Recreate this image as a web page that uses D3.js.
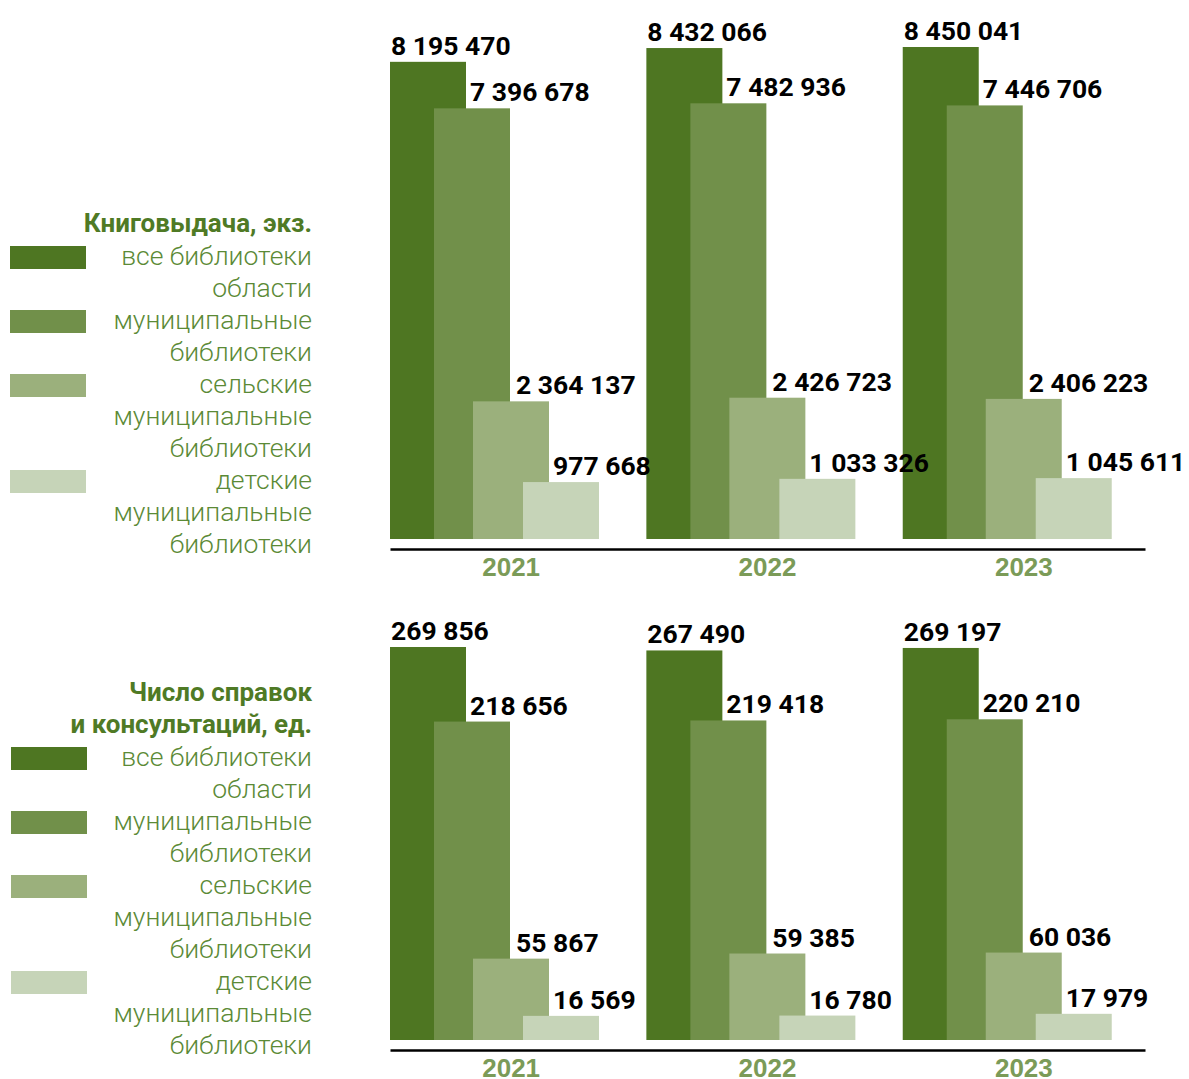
<!DOCTYPE HTML>
<html>
<head>
<meta charset="UTF-8">
<title>Книговыдача и справки</title>
<script src="https://d3js.org/d3.v7.min.js"></script>
<style>
  body { margin: 0; background: #fff; }
  svg { display: block; font-family: Roboto, "Noto Sans", sans-serif; }
  .val { font-weight: 700; font-size: 26.5px; fill: #000; }
  .year text { font-weight: 700; font-size: 26px; fill: #7b9b58; }
  .year path { stroke: #000; stroke-width: 2.5; }
  .ttl { font-weight: 700; font-size: 26px; fill: #4f7a25; text-anchor: end; }
  .leg { font-weight: 300; font-size: 26.5px; fill: #5b8a36; text-anchor: end; }
</style>
</head>
<body>
<svg width="1189" height="1079"></svg>
<script>
const years = ["2021", "2022", "2023"];
const seriesNames = [
  ["все библиотеки", "области"],
  ["муниципальные", "библиотеки"],
  ["сельские", "муниципальные", "библиотеки"],
  ["детские", "муниципальные", "библиотеки"]
];
const colors = ["#4e7622", "#71904a", "#9bb07c", "#c6d4b8"];

// Книговыдача, экз. (по годам: все, муниципальные, сельские, детские)
const booksAll = [8195470, 8432066, 8450041];
const booksMun = [7396678, 7482936, 7446706];
const booksRural = [2364137, 2426723, 2406223];
const booksChild = [977668, 1033326, 1045611];

// Число справок и консультаций, ед.
const refAll = [269856, 267490, 269197];
const refMun = [218656, 219418, 220210];
const refRural = [55867, 59385, 60036];
const refChild = [16569, 16780, 17979];

const fmt = v => d3.format(",")(v).replace(/,/g, " ");
const svg = d3.select("svg");

function drawPanel(cfg) {
  const series = cfg.data;
  const g = svg.append("g");

  // legend
  cfg.title.forEach((t, i) => {
    g.append("text").attr("class", "ttl")
      .attr("x", 312).attr("y", cfg.titleY + i * 32).attr("dy", "0.35em").text(t);
  });
  let line = 0;
  seriesNames.forEach((lines, si) => {
    const y0 = cfg.legY + line * 32;
    g.append("rect").attr("x", cfg.swX).attr("y", y0 - 10).attr("width", 76).attr("height", 23)
      .attr("fill", colors[si]);
    lines.forEach((l, li) => {
      g.append("text").attr("class", "leg")
        .attr("x", 312).attr("y", y0 + li * 32).attr("dy", "0.35em").text(l);
    });
    line += lines.length;
  });

  const x = d3.scaleBand().domain(years).range([390, 1145]).paddingInner(0.055).paddingOuter(0);
  const off = d3.scaleOrdinal().domain([0, 1, 2, 3]).range([0, 44, 83, 133]);
  const labOff = d3.scaleOrdinal().domain([0, 1, 2, 3]).range([1, 36, 43, 30]);
  const y = d3.scaleLinear().domain([0, cfg.max]).range([cfg.base, cfg.top]);

  const rows = [];
  years.forEach((yr, yi) => series.forEach((s, si) => rows.push({ yr, si, v: s[yi] })));

  g.selectAll("rect.bar").data(rows).enter().append("rect")
    .attr("class", "bar")
    .attr("x", d => x(d.yr) + off(d.si))
    .attr("y", d => y(d.v))
    .attr("width", 76)
    .attr("height", d => y(0) - y(d.v))
    .attr("fill", d => colors[d.si]);

  g.selectAll("text.val").data(rows).enter().append("text")
    .attr("class", "val")
    .attr("x", d => x(d.yr) + off(d.si) + labOff(d.si))
    .attr("y", d => y(d.v) - 7)
    .text(d => fmt(d.v));

  g.append("g").attr("class", "year")
    .attr("transform", "translate(0," + cfg.axisY + ")")
    .call(d3.axisBottom(x).tickSize(0).tickSizeOuter(0).tickPadding(9));
}

drawPanel({
  data: [booksAll, booksMun, booksRural, booksChild],
  title: ["Книговыдача, экз."], titleY: 223, legY: 256, swX: 10,
  base: 539, top: 47, max: 8450041, axisY: 549
});
drawPanel({
  data: [refAll, refMun, refRural, refChild],
  title: ["Число справок", "и консультаций, ед."], titleY: 692, legY: 757, swX: 11,
  base: 1040, top: 647, max: 269856, axisY: 1050
});
</script>
</body>
</html>
